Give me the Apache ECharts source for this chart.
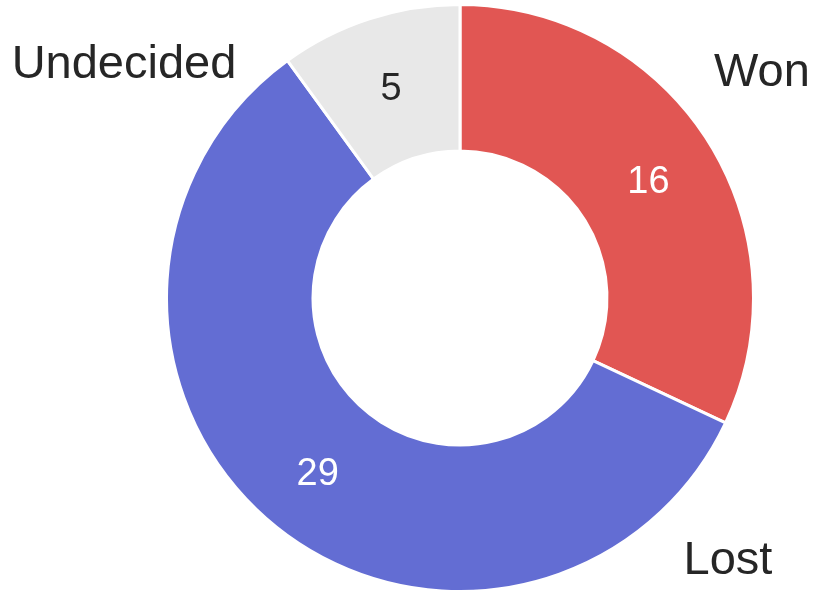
<!DOCTYPE html>
<html>
<head>
<meta charset="utf-8">
<script src="https://cdn.jsdelivr.net/npm/echarts@6/dist/echarts.min.js"></script>
<style>html,body{margin:0;padding:0;background:#fff;}#c{width:814px;height:592px;}</style>
</head>
<body>
<div id="c"></div>
<script>
var categories = ['Won', 'Lost', 'Undecided'];
var values = [16, 29, 5];
var colors = ['#E15653', '#636DD3', '#E8E8E8'];
var valueLabelColors = ['#ffffff', '#ffffff', '#262626'];
// name label anchor points (layout/styling only)
var nameLabelPos = [[762, 73], [728, 561], [124, 65]];

var data = categories.map(function (c, i) {
  return { name: c, value: values[i], itemStyle: { color: colors[i] },
           label: { color: valueLabelColors[i] } };
});
var nameData = categories.map(function (c, i) {
  return { name: c, value: values[i] };
});

var chart = echarts.init(document.getElementById('c'), null, { renderer: 'canvas' });
chart.setOption({
  animation: false,
  series: [
    {
      type: 'pie',
      center: [460, 298],
      radius: [147, 293.5],
      startAngle: 90,
      clockwise: true,
      silent: true,
      itemStyle: { borderColor: '#ffffff', borderWidth: 3 },
      label: {
        show: true, position: 'inside', formatter: '{c}',
        fontFamily: 'Liberation Sans', fontSize: 38, offset: [0, 4]
      },
      labelLine: { show: false },
      data: data
    },
    {
      type: 'pie',
      center: [460, 298],
      radius: [147, 293.5],
      startAngle: 90,
      clockwise: true,
      silent: true,
      itemStyle: { color: 'rgba(0,0,0,0)', borderWidth: 0 },
      label: {
        show: true, position: 'inside', formatter: '{b}',
        fontFamily: 'Liberation Sans', fontSize: 47, color: '#262626'
      },
      labelLine: { show: false },
      labelLayout: function (p) {
        var pos = nameLabelPos[p.dataIndex];
        return { x: pos[0], y: pos[1], align: 'center', verticalAlign: 'middle' };
      },
      data: nameData
    }
  ]
});
</script>
</body>
</html>
